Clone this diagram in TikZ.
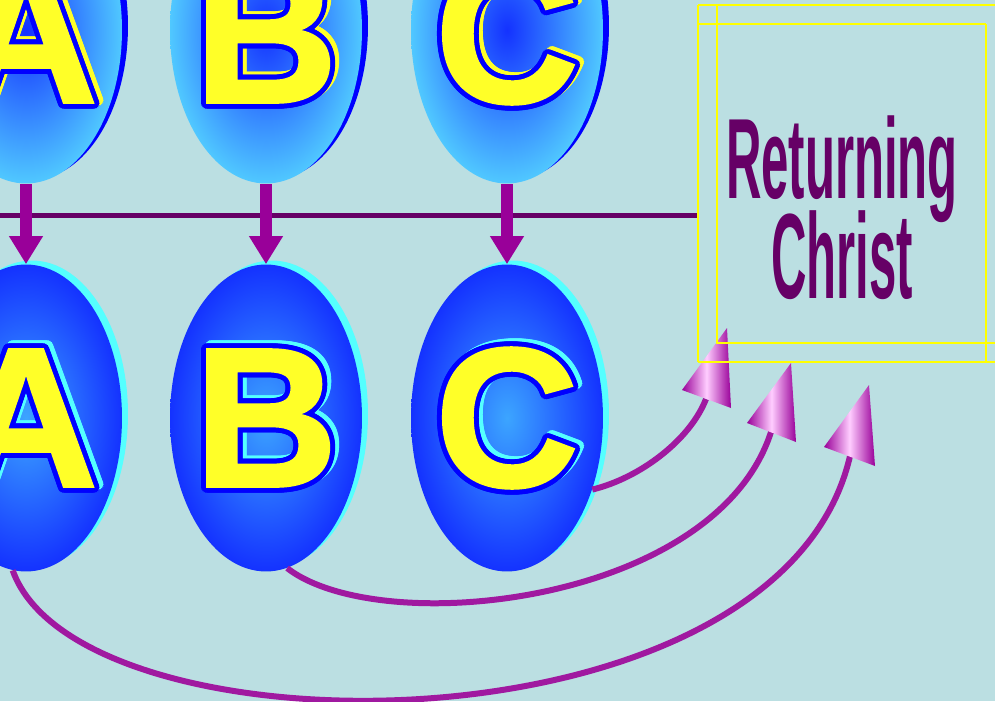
\documentclass[tikz,border=0pt]{standalone}
\usepackage{fontspec}
\usepackage{xcolor}
\usepackage{tikz}
\usetikzlibrary{shapes.geometric, arrows.meta, calc}
\newfontfamily\glyphfont{Liberation Sans}[FakeBold=1.5]
\newfontfamily\titlefont{Liberation Sans}
\definecolor{bgteal}{RGB}{187,223,226}
\definecolor{darkplum}{RGB}{102,0,102}
\definecolor{plum}{RGB}{153,0,153}
\definecolor{arcplum}{RGB}{160,25,160}
\definecolor{lightpink}{RGB}{255,205,255}
\definecolor{cyanish}{RGB}{85,255,255}
\definecolor{royal}{RGB}{20,50,255}
\definecolor{skyblue}{RGB}{80,200,255}
\definecolor{midsky}{RGB}{60,165,255}
\definecolor{lemon}{RGB}{255,255,40}
\definecolor{boxyellow}{RGB}{255,255,0}

\begin{document}
\begin{tikzpicture}
				[x=0.02cm, y=-0.02cm,
				oval/.style = {ellipse, minimum width=3.84cm, minimum height=6.14cm, inner sep=0},
				topoval/.style = {oval, inner color=royal, outer color=skyblue},
				lowoval/.style = {oval, inner color=midsky, outer color=royal},
				glyph/.style = {inner sep=0, font=\glyphfont\bfseries\fontsize{113}{113}\selectfont},
				downarrow/.style = {plum, line width=0.24cm, -{Triangle[width=0.64cm, length=0.56cm]}},
				curveline/.style = {arcplum, line width=0.12cm},
				headshade/.style = {left color=plum, right color=plum, middle color=lightpink},
				boxline/.style = {boxyellow, line width=0.8pt},
				titletext/.style = {inner sep=0, anchor=base, text=darkplum, font=\titlefont\bfseries}]
				\useasboundingbox (0,0) rectangle (995,701);
				\clip (0,0) rectangle (995,701);
				\fill[bgteal] (0,0) rectangle (995,701);
				% line between the rows
				\coordinate (hl) at (0,215);
				\coordinate (hr) at (698,215);
				\draw[darkplum, line width=0.1cm] (hl)--(hr);
				% ovals and letters
				\foreach \n/\x/\l in {0/26/A, 1/266/B, 2/507/C} {
					\node[oval, fill=blue] (ts\n) at (\x+6,26) {};
					\node[topoval] (t\n) at (\x,30) {};
					\foreach \a in {0,20,...,340}
						\node[glyph, text=lemon] at ($(\x+4,31)+(\a:5)$) {\l};
					\foreach \a in {0,20,...,340}
						\node[glyph, text=blue] at ($(\x,34)+(\a:5)$) {\l};
					\node[glyph, text=lemon] (tl\n) at (\x,34) {\l};
					\node[oval, fill=cyanish] (bs\n) at (\x+6,414) {};
					\node[lowoval] (b\n) at (\x,418) {};
					\foreach \a in {0,20,...,340}
						\node[glyph, text=cyanish] at ($(\x+4,415)+(\a:5)$) {\l};
					\foreach \a in {0,20,...,340}
						\node[glyph, text=blue] at ($(\x,418)+(\a:5)$) {\l};
					\node[glyph, text=lemon] (bl\n) at (\x,418) {\l};
					\draw[downarrow] (t\n.south)--(b\n.north);
				}
				% curved arrows
				\coordinate (h2) at (706,399);
				\coordinate (h1) at (771,432);
				\coordinate (h0) at (850,456);
				\draw[curveline] (b2.-40) .. controls (640,478) and (690,440) .. (h2);
				\draw[curveline] (b1.-82) .. controls (380,640) and (715,605) .. (h1);
				\draw[curveline] (b0.-95) .. controls (80,760) and (780,760) .. (h0);
				\shade[headshade] (682,390)--(727,328)--(731,408)--cycle;
				\shade[headshade] (747,423)--(791,363)--(796,442)--cycle;
				\shade[headshade] (824,447)--(869,385)--(875,466)--cycle;
				% box
				\draw[boxline] (698,5)--(995,5);
				\draw[boxline] (698,5)--(698,362);
				\draw[boxline] (698,24)--(986,24);
				\draw[boxline] (717,5)--(717,343)--(995,343);
				\draw[boxline] (986,24)--(986,362);
				\draw[boxyellow, line width=1.4pt] (698,362)--(995,362);
				\node[titletext] (rc1) at (842,198) {\fontsize{65}{65}\selectfont\scalebox{0.43}[1]{Returning}};
				\node[titletext] (rc2) at (842,298) {\fontsize{69}{69}\selectfont\scalebox{0.405}[1]{Christ}};
			\end{tikzpicture}
\end{document}
